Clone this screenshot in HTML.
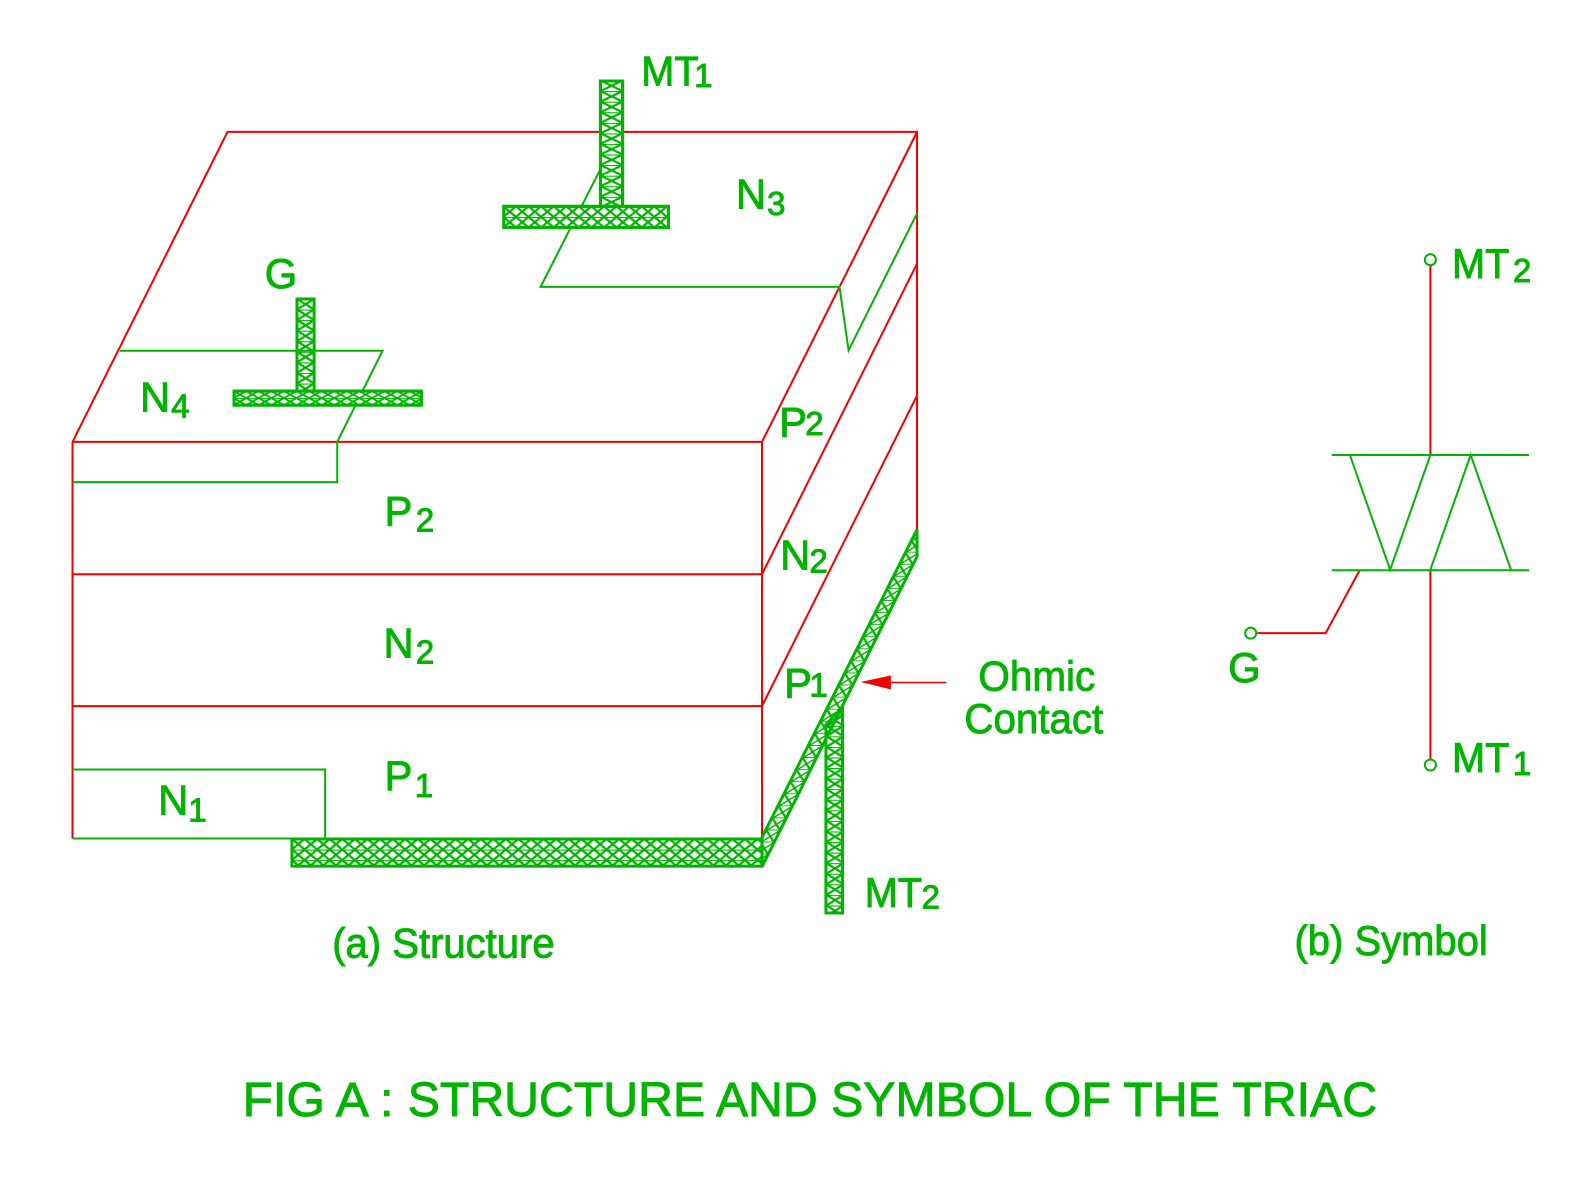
<!DOCTYPE html>
<html><head><meta charset="utf-8"><style>
html,body{margin:0;padding:0;background:#fff}
svg{display:block}
text{font-family:"Liberation Sans",sans-serif;fill:#00b400;stroke:#00b400;stroke-width:.9}
.r{fill:none;stroke:#f50000;stroke-width:2}
.g{fill:none;stroke:#00b400;stroke-width:2}
.b{stroke:#00b400;stroke-width:3}
.l{font-size:41.500px}
.s{font-size:33px}
</style></head><body>
<svg width="1578" height="1177" viewBox="0 0 1567.600 1169.300" xmlns="http://www.w3.org/2000/svg">
<defs>
<pattern id="p1" width="12.500" height="10.500" patternUnits="userSpaceOnUse" x="500" y="205">
<path d="M0 0H12.500M0 0L12.500 10.500M12.500 0L0 10.500" stroke="#00b400" stroke-width="2.200" fill="none"/>
</pattern>
<pattern id="p2" width="12.500" height="7" patternUnits="userSpaceOnUse" x="232" y="388.500">
<path d="M0 0H12.500M0 0L12.500 7M12.500 0L0 7" stroke="#00b400" stroke-width="1.800" fill="none"/>
</pattern>
<pattern id="p3" width="12.500" height="10.500" patternUnits="userSpaceOnUse" x="290" y="833.500">
<path d="M0 0H12.500M0 0L12.500 10.500M12.500 0L0 10.500" stroke="#00b400" stroke-width="2.200" fill="none"/>
</pattern>
<pattern id="s1" width="22" height="10.500" patternUnits="userSpaceOnUse" x="596.500" y="80">
<path d="M0 0H22M0 0L22 10.500M22 0L0 10.500" stroke="#00b400" stroke-width="2.200" fill="none"/>
</pattern>
<pattern id="s2" width="17" height="10.500" patternUnits="userSpaceOnUse" x="295" y="297">
<path d="M0 0H17M0 0L17 10.500M17 0L0 10.500" stroke="#00b400" stroke-width="2.200" fill="none"/>
</pattern>
<pattern id="s3" width="17" height="10.500" patternUnits="userSpaceOnUse" x="821" y="700">
<path d="M0 0H17M0 0L17 10.500M17 0L0 10.500" stroke="#00b400" stroke-width="2.200" fill="none"/>
</pattern>
<pattern id="dg" width="12" height="13.500" patternUnits="userSpaceOnUse" patternTransform="matrix(0.5,-1,1,0,743.500,861)">
<path d="M0 0V13.500M0 0L12 13.500M12 0L0 13.500" stroke="#00b400" stroke-width="1.800" fill="none"/>
</pattern>
</defs>

<!-- Red block -->
<path class="r" d="M72 439L226 131H911V553L757 861"/>
<path class="r" d="M72 439H757L911 131"/>
<path class="r" d="M72 439V833M757 439V861"/>
<path class="r" d="M72 570.500H757L911 262M72 701.500H757L911 393"/>

<!-- Green regions -->
<path class="g" d="M119 348.500H380L335 439V479H72"/>
<path class="g" d="M72 764.500H323V833H72"/>
<path class="g" d="M597 167L537 285H834L843 348L911 212"/>

<!-- Contacts -->
<rect class="b" fill="#fff" x="596.500" y="80.500" width="22" height="126"/>
<rect class="b" fill="url(#s1)" x="596.500" y="80.500" width="22" height="126"/>
<rect class="b" fill="#fff" x="500.500" y="205" width="163.500" height="21"/>
<rect class="b" fill="url(#p1)" x="500.500" y="205" width="163.500" height="21"/>
<rect class="b" fill="url(#s2)" x="295" y="297" width="17" height="92"/>
<rect class="b" fill="#fff" x="232.500" y="388.500" width="186" height="14"/>
<rect class="b" fill="url(#p2)" x="232.500" y="388.500" width="186" height="14"/>
<rect class="b" fill="url(#p3)" x="290" y="833.500" width="467" height="27"/>
<path class="b" fill="url(#s3)" d="M820.500 720L837 702V907H820.500Z"/>
<path class="b" fill="url(#dg)" d="M757 861L911 553V526L757 832Z"/>

<!-- Arrow -->
<path d="M940 678H870" stroke="#f50000" stroke-width="1.500" fill="none"/>
<path d="M855 677.500L885 671V685Z" fill="#f50000"/>

<!-- Symbol -->
<path class="r" d="M1421 264V452M1421 566V754M1351 566L1317 629H1249"/>
<circle class="g" cx="1421" cy="258" r="5.500"/>
<circle class="g" cx="1421" cy="760" r="5.500"/>
<circle class="g" cx="1242.500" cy="629" r="5.500"/>
<path class="g" d="M1323 452H1519M1323 566.500H1519M1341 452L1381 566L1421 452M1421 566L1461 452L1501 566"/>

<!-- Labels -->
<text class="l" x="637" y="85" textLength="57" lengthAdjust="spacingAndGlyphs">MT</text><text class="s" x="689.500" y="86.500">1</text>
<text class="l" x="731" y="207">N</text><text class="s" x="762" y="213.500">3</text>
<text class="l" x="263" y="286">G</text>
<text class="l" x="139" y="409">N</text><text class="s" x="170" y="415">4</text>
<text class="l" x="774" y="433.500">P</text><text class="s" x="800" y="432">2</text>
<text class="l" x="382" y="522">P</text><text class="s" x="413" y="528">2</text>
<text class="l" x="775" y="566">N</text><text class="s" x="804" y="569">2</text>
<text class="l" x="381" y="653">N</text><text class="s" x="413" y="659">2</text>
<text class="l" x="779" y="693">P</text><text class="s" x="804" y="692">1</text>
<text class="l" x="382" y="785">P</text><text class="s" x="412" y="792">1</text>
<text class="l" x="157" y="809">N</text><text class="s" x="187" y="816">1</text>
<text class="l" x="859" y="901" textLength="57" lengthAdjust="spacingAndGlyphs">MT</text><text class="s" x="915.500" y="902.500">2</text>
<text class="l" x="972" y="686" textLength="116" lengthAdjust="spacingAndGlyphs">Ohmic</text>
<text class="l" x="958" y="728" textLength="138" lengthAdjust="spacingAndGlyphs">Contact</text>
<text class="l" x="330" y="951" textLength="221" lengthAdjust="spacingAndGlyphs">(a) Structure</text>
<text class="l" x="1286" y="949" textLength="192" lengthAdjust="spacingAndGlyphs">(b) Symbol</text>
<text class="l" x="1442.500" y="276" textLength="57" lengthAdjust="spacingAndGlyphs">MT</text><text class="s" x="1503" y="280">2</text>
<text class="l" x="1442.500" y="767" textLength="57" lengthAdjust="spacingAndGlyphs">MT</text><text class="s" x="1503" y="770">1</text>
<text class="l" x="1220" y="677.500">G</text>
<text x="241" y="1108.500" font-size="48" textLength="150" lengthAdjust="spacingAndGlyphs">FIG A :</text>
<text x="405" y="1108.500" font-size="48" textLength="963" lengthAdjust="spacingAndGlyphs">STRUCTURE AND SYMBOL OF THE TRIAC</text>
</svg>
</body></html>
